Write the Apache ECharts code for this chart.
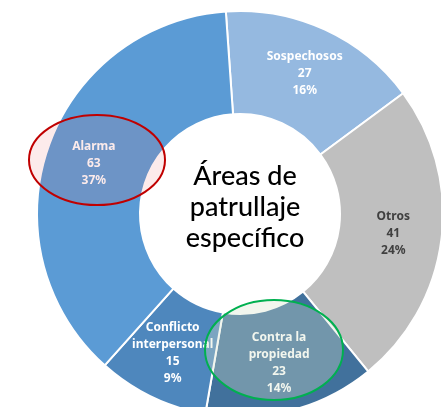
<!DOCTYPE html>
<html>
<head>
<meta charset="utf-8">
<script src="https://cdn.jsdelivr.net/npm/echarts@6/dist/echarts.min.js"></script>
<style>
  html, body { margin: 0; padding: 0; background: #fff; }
  #chart { width: 441px; height: 407px; }
</style>
</head>
<body>
<div id="chart"></div>
<script>
// data, clockwise from the top
const categories = ['Sospechosos', 'Otros', 'Contra la propiedad', 'Conflicto interpersonal', 'Alarma']
const labelNames = ['Sospechosos', 'Otros', 'Contra la\npropiedad', 'Conflicto\ninterpersonal', 'Alarma']
const counts = [27, 41, 23, 15, 63]
const sliceColors = ['#95B9E0', '#BFBFBF', '#41719C', '#4E87BD', '#5B9BD5']
const labelColors = ['#fff', '#404040', '#fff', '#fff', '#fff']
const centerTitle = ['Áreas de', 'patrullaje', 'específico']

const chart = echarts.init(document.getElementById('chart'))

const pieData = categories.map((name, i) => ({
  name: name,
  value: counts[i],
  itemStyle: { color: sliceColors[i] },
  label: { color: labelColors[i] }
}))

chart.setOption({
  animation: false,
  series: [{
    type: 'pie',
    center: [240, 214],
    radius: [100, 203],
    startAngle: 94,
    clockwise: true,
    avoidLabelOverlap: false,
    percentPrecision: 0,
    itemStyle: { borderColor: '#fff', borderWidth: 2 },
    label: {
      show: true,
      position: 'inside',
      fontFamily: 'Noto Sans',
      fontWeight: 'bold',
      fontSize: 12,
      lineHeight: 17,
      formatter: function(p) {
        return labelNames[p.dataIndex] + '\n' + p.value + '\n' + Math.round(p.percent) + '%'
      }
    },
    labelLine: { show: false },
    data: pieData
  }],
  graphic: [
    {
      type: 'text',
      z: 10,
      style: {
        text: centerTitle.join('\n'),
        x: 245,
        y: 207,
        textAlign: 'center',
        textVerticalAlign: 'middle',
        fontFamily: 'Lato',
        fontWeight: 500,
        fontSize: 27,
        lineHeight: 31,
        fill: '#000'
      }
    },
    {
      type: 'ellipse',
      z: 20,
      shape: { cx: 97, cy: 160, rx: 68, ry: 45 },
      style: { fill: 'rgba(235,100,100,0.13)', stroke: '#C00000', lineWidth: 2 }
    },
    {
      type: 'ellipse',
      z: 20,
      shape: { cx: 274, cy: 350, rx: 69, ry: 50 },
      style: { fill: 'rgba(215,227,203,0.33)', stroke: '#00B050', lineWidth: 2 }
    }
  ]
})
</script>
</body>
</html>
